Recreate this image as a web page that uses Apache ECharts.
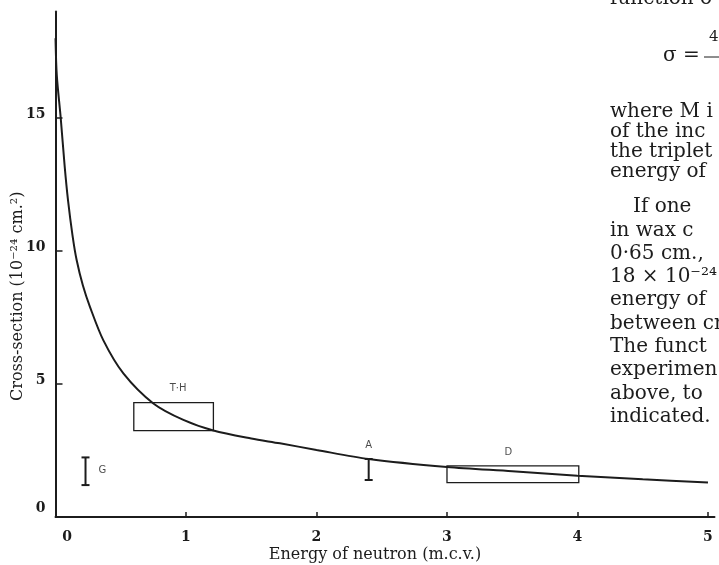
<!DOCTYPE html>
<html><head><meta charset="utf-8">
<script src="https://cdn.jsdelivr.net/npm/echarts@6/dist/echarts.min.js"></script>
<style>html,body{margin:0;padding:0;background:#fff}#c{width:719px;height:565px}</style>
</head><body><div id="c"></div>
<script>
// ---- data ----
const xTicks = [0, 1, 2, 3, 4, 5];
const yTicks = [0, 5, 10, 15];
const curveEnergy = [0.000, 0.010, 0.040, 0.070, 0.096, 0.130, 0.162, 0.210, 0.264, 0.366, 0.52, 0.75, 0.98, 1.21, 1.50, 1.72, 2.00, 2.40, 3.00, 3.50, 4.00, 4.50, 5.00];
const curveSigma  = [18.0, 16.6, 15.0, 13.2, 11.9, 10.6, 9.66, 8.7, 7.9, 6.65, 5.4, 4.27, 3.65, 3.25, 2.95, 2.77, 2.52, 2.18, 1.88, 1.72, 1.55, 1.42, 1.30];
const boxNames = ['T·H', 'D'];
const boxEnergyLow = [0.60, 3.00];
const boxEnergyHigh = [1.21, 4.01];
const boxSigmaLow = [3.25, 1.29];
const boxSigmaHigh = [4.30, 1.92];
const barNames = ['G', 'A'];
const barEnergy = [0.23, 2.40];
const barSigmaLow = [1.20, 1.39];
const barSigmaHigh = [2.24, 2.18];
const markLabels = ['T·H', 'A', 'D', 'G'];
const markLabelEnergy = [0.94, 2.40, 3.47, 0.36];
const markLabelSigma = [4.85, 2.70, 2.44, 1.74];
const bodyLines = ['where M i', 'of the inc', 'the triplet', 'energy of'];
const bodyLines2 = ['If one', 'in wax c', '0·65 cm.,', '18 × 10⁻²⁴', 'energy of', 'between cr', 'The funct', 'experimen', 'above, to', 'indicated.'];

const INK = '#1c1c1c';
const SERIF = "'DejaVu Serif', serif";

const curveData = curveEnergy.map((e, i) => [e, curveSigma[i]]);
const boxData = boxNames.map((n, i) => ({ name: n, value: [boxEnergyLow[i], boxEnergyHigh[i], boxSigmaLow[i], boxSigmaHigh[i]] }));
const barData = barNames.map((n, i) => ({ name: n, value: [barEnergy[i], barSigmaLow[i], barSigmaHigh[i]] }));
const labelData = markLabels.map((n, i) => ({ name: n, value: [markLabelEnergy[i], markLabelSigma[i]] }));

const graphics = [];
graphics.push({ type: 'text', left: 610, top: -11, style: { text: 'function o', font: "20px " + SERIF, fill: INK } });
graphics.push({ type: 'text', left: 663, top: 46, style: { text: 'σ =', font: "20px " + SERIF, fill: INK } });
graphics.push({ type: 'text', left: 709, top: 30, style: { text: '4', font: "15px " + SERIF, fill: INK } });
graphics.push({ type: 'line', shape: { x1: 704, y1: 57, x2: 719, y2: 57 }, style: { stroke: INK, lineWidth: 1 } });
bodyLines.forEach((t, i) => {
  graphics.push({ type: 'text', left: 610, top: 113 + i * 20 - 11, style: { text: t, font: "20px " + SERIF, fill: INK } });
});
bodyLines2.forEach((t, i) => {
  graphics.push({ type: 'text', left: i === 0 ? 633 : 610, top: 208 + i * 23.3 - 11, style: { text: t, font: "20px " + SERIF, fill: INK } });
});

const chart = echarts.init(document.getElementById('c'), null, { renderer: 'canvas' });
chart.setOption({
  backgroundColor: '#fff',
  animation: false,
  grid: { left: 55.5, right: 4.5, top: 11.6, bottom: 48, containLabel: false, outerBoundsMode: 'none' },
  xAxis: {
    type: 'value', min: 0, max: 5.05, interval: 1,
    name: 'Energy of neutron (m.c.v.)', nameLocation: 'middle', nameGap: 30, nameMoveOverlap: false,
    nameTextStyle: { fontFamily: SERIF, fontSize: 16, color: INK, padding: [0, 20, 0, 0] },
    axisLine: { show: true, lineStyle: { color: INK, width: 2 } },
    axisTick: { show: true, inside: true, length: 5, customValues: xTicks, lineStyle: { color: INK, width: 1.5 } },
    axisLabel: {
      customValues: xTicks, margin: 13, fontFamily: SERIF, fontSize: 14, fontWeight: 'bold', color: INK,
      formatter: v => v === 0 ? '{z|0}' : '{n|' + v + '}',
      rich: {
        z: { padding: [0, 0, 0, 23], fontFamily: SERIF, fontSize: 14, fontWeight: 'bold', color: INK },
        n: { fontFamily: SERIF, fontSize: 14, fontWeight: 'bold', color: INK }
      }
    },
    splitLine: { show: false }
  },
  yAxis: {
    type: 'value', min: 0, max: 19, interval: 5,
    name: 'Cross-section (10⁻²⁴ cm.²)', nameLocation: 'middle', nameGap: 30, nameMoveOverlap: false,
    nameTextStyle: { fontFamily: SERIF, fontSize: 16, color: INK, padding: [0, 64, 0, 0] },
    axisLine: { show: true, lineStyle: { color: INK, width: 2 } },
    axisTick: { show: true, inside: true, length: 7, customValues: yTicks, lineStyle: { color: INK, width: 1.5 } },
    axisLabel: {
      customValues: yTicks, margin: 10, fontFamily: SERIF, fontSize: 14, fontWeight: 'bold', color: INK,
      formatter: v => v === 0 ? '{z|0}' : '{n|' + v + '}',
      rich: {
        z: { padding: [0, 0, 18, 0], fontFamily: SERIF, fontSize: 14, fontWeight: 'bold', color: INK },
        n: { padding: [0, 0, 8, 0], fontFamily: SERIF, fontSize: 14, fontWeight: 'bold', color: INK }
      }
    },
    splitLine: { show: false }
  },
  series: [
    {
      type: 'line', data: curveData, smooth: 0.3, symbol: 'none',
      lineStyle: { color: INK, width: 2 }, z: 3
    },
    {
      type: 'custom', data: boxData, z: 2,
      renderItem: (params, api) => {
        const p0 = api.coord([api.value(0), api.value(2)]);
        const p1 = api.coord([api.value(1), api.value(3)]);
        return { type: 'rect', shape: { x: p0[0], y: p1[1], width: p1[0] - p0[0], height: p0[1] - p1[1] },
          style: { fill: 'none', stroke: INK, lineWidth: 1.3 } };
      }
    },
    {
      type: 'custom', data: barData, z: 2,
      renderItem: (params, api) => {
        const lo = api.coord([api.value(0), api.value(1)]);
        const hi = api.coord([api.value(0), api.value(2)]);
        const w = 4;
        const st = { stroke: INK, lineWidth: 2 };
        return { type: 'group', children: [
          { type: 'line', shape: { x1: lo[0], y1: lo[1], x2: hi[0], y2: hi[1] }, style: st },
          { type: 'line', shape: { x1: lo[0] - w, y1: lo[1], x2: lo[0] + w, y2: lo[1] }, style: st },
          { type: 'line', shape: { x1: hi[0] - w, y1: hi[1], x2: hi[0] + w, y2: hi[1] }, style: st }
        ] };
      }
    },
    {
      type: 'scatter', data: labelData, symbolSize: 0, silent: true,
      label: { show: true, position: 'inside', formatter: p => p.name, fontFamily: "'DejaVu Sans', sans-serif", fontSize: 10, color: INK }
    }
  ],
  graphic: graphics
});
</script></body></html>
